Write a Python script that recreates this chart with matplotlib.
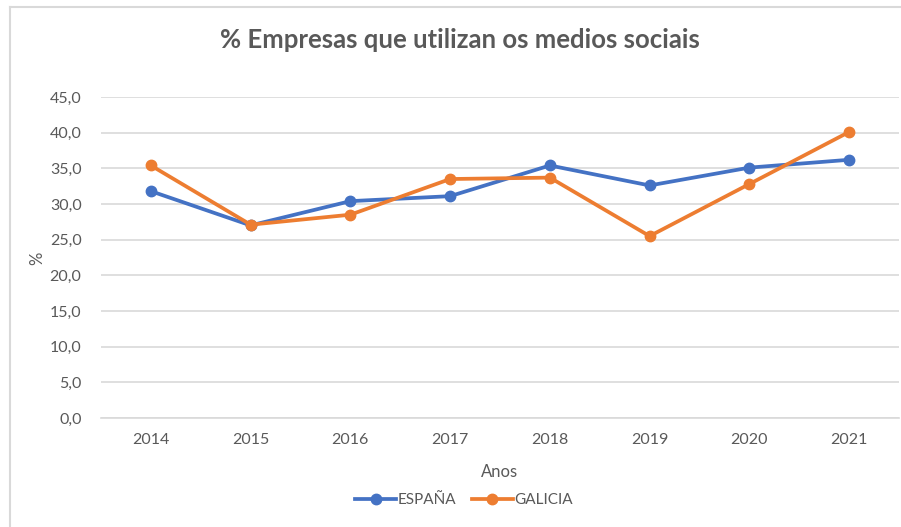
import matplotlib
matplotlib.use("Agg")
import matplotlib.pyplot as plt
from matplotlib.lines import Line2D

plt.rcParams['font.family'] = ['Lato', 'DejaVu Sans']

# --- datos ---
anos = ['2014', '2015', '2016', '2017', '2018', '2019', '2020', '2021']
espana = [31.8, 27.0, 30.4, 31.1, 35.4, 32.6, 35.1, 36.2]
galicia = [35.4, 27.1, 28.5, 33.5, 33.7, 25.5, 32.8, 40.1]
y_ticks = [0, 5, 10, 15, 20, 25, 30, 35, 40, 45]

TXT = '#595959'
GRID = '#d9d9d9'
AZUL = '#4472c4'
LARANXA = '#ed7d31'

W, H = 901, 527
fig = plt.figure(figsize=(W / 100, H / 100), dpi=100)
ax = fig.add_axes([101 / W, (H - 418) / H, 798 / W, 321 / H])

x = list(range(len(anos)))
ax.plot(x, espana, '-o', color=AZUL, lw=2.7, ms=7.5, label='ESPAÑA', zorder=3)
ax.plot(x, galicia, '-o', color=LARANXA, lw=2.7, ms=7.5, label='GALICIA', zorder=4)

ax.set_xlim(-0.5, len(anos) - 0.5)
ax.set_ylim(0, 45)
ax.set_yticks(y_ticks)
ax.set_yticklabels([f"{v:.1f}".replace('.', ',') for v in y_ticks])
ax.set_xticks(x)
ax.set_xticklabels(anos)
ax.grid(axis='y', color=GRID, lw=1.2)
ax.set_axisbelow(True)
for s in ['top', 'right', 'left']:
    ax.spines[s].set_visible(False)
ax.spines['bottom'].set_color(GRID)
ax.spines['bottom'].set_linewidth(1.2)
ax.tick_params(axis='both', length=0, colors=TXT, labelsize=11.5)
ax.tick_params(axis='y', pad=14)
ax.tick_params(axis='x', pad=11)

ax.set_xlabel('Anos', color=TXT, fontsize=12, labelpad=12)
fig.text(37 / W, 1 - 258 / H, '%', color=TXT, fontsize=12, rotation=90,
         ha='center', va='center')
fig.text(460 / W, 1 - 40 / H, '% Empresas que utilizan os medios sociais',
         color=TXT, fontsize=18.5, fontweight='bold', ha='center', va='center')

ax.legend(loc='center', bbox_to_anchor=(464 / W, 1 - 500 / H),
          bbox_transform=fig.transFigure, ncol=2, frameon=False,
          fontsize=11, labelcolor=TXT, handlelength=2.7, handletextpad=0.1,
          columnspacing=1.0)

# marco do gráfico (só esquerda e arriba visibles)
fig.add_artist(Line2D([10 / W, 10 / W], [0, 1 - 6.5 / H], color=GRID, lw=1.5))
fig.add_artist(Line2D([10 / W, 1], [1 - 6.5 / H, 1 - 6.5 / H], color=GRID, lw=1.5))

fig.savefig('out.png', dpi=100, facecolor='white')
